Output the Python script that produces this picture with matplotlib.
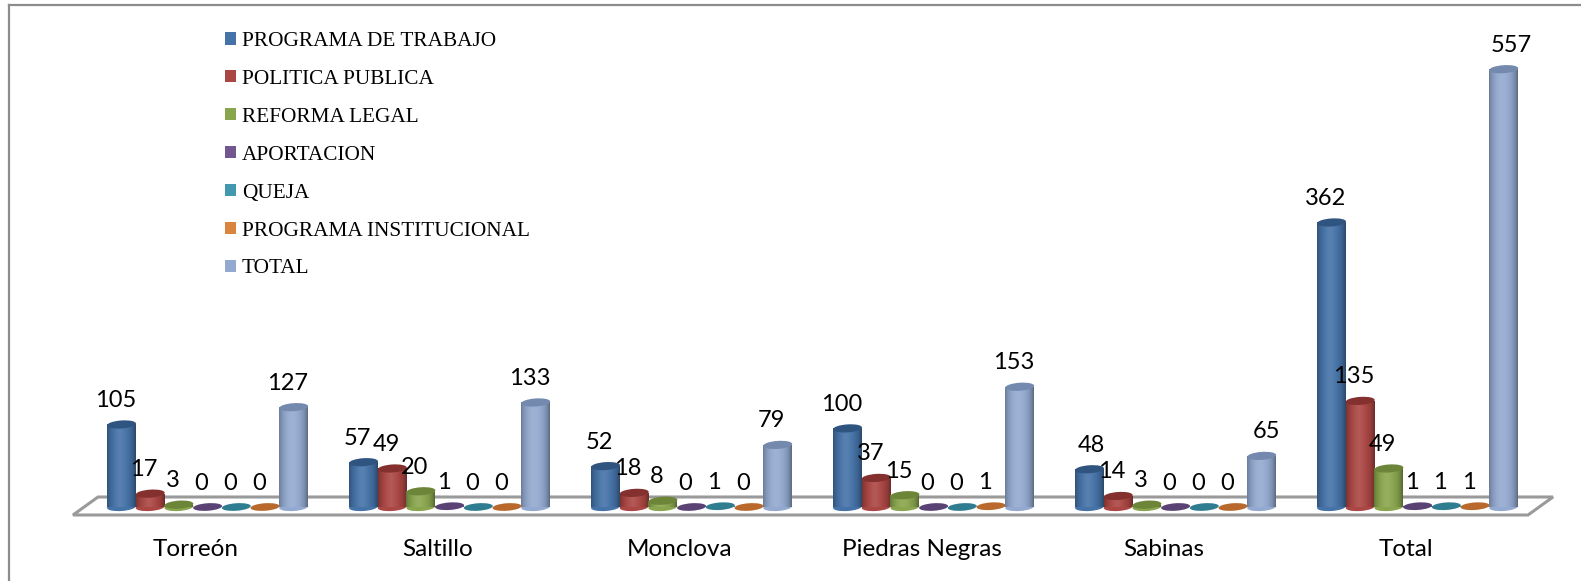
import matplotlib
import matplotlib.pyplot as plt
import numpy as np
from matplotlib.patches import Ellipse, Polygon, Rectangle
from matplotlib.transforms import Affine2D, ScaledTranslation

matplotlib.use('Agg')

cities = ['Torreón', 'Saltillo', 'Monclova', 'Piedras Negras', 'Sabinas', 'Total']
programa_trabajo = [105, 57, 52, 100, 48, 362]
politica_publica = [17, 49, 18, 37, 14, 135]
reforma_legal = [3, 20, 8, 15, 3, 49]
aportacion = [0, 1, 0, 0, 0, 1]
queja = [0, 0, 1, 0, 0, 1]
programa_institucional = [0, 0, 0, 1, 0, 1]
total = [127, 133, 79, 153, 65, 557]

series = [
    ('PROGRAMA DE TRABAJO', programa_trabajo, '#4572A7', '#2f5480'),
    ('POLITICA PUBLICA', politica_publica, '#AA4643', '#83302e'),
    ('REFORMA LEGAL', reforma_legal, '#89A54E', '#6c8538'),
    ('APORTACION', aportacion, '#71588F', '#5a4274'),
    ('QUEJA', queja, '#4198AF', '#2f7d90'),
    ('PROGRAMA INSTITUCIONAL', programa_institucional, '#DB843D', '#b8692b'),
    ('TOTAL', total, '#93A9CF', '#7389ae'),
]

W, H = 1581, 581
BASE_Y = 507        # pixel row of the bar bases
PX_PER_UNIT = 0.786
FIRST_X = 107       # left edge of the first bar
BAR_PX = 29
STEP_PX = 28.7      # bars overlap a little
PERIOD = 242

# labels that sit off the usual spot, (series, city): extra pixels to the right
label_nudge = {(0, 4): 8, (6, 4): 11, (6, 5): 14}

fig = plt.figure(figsize=(W / 100, H / 100), dpi=100, facecolor='white')
ax = fig.add_axes([0, 0, 1, 1])

# one x unit = one category, y in data values
group_mid = FIRST_X + BAR_PX / 2 + 3 * STEP_PX
xlim = (-group_mid / PERIOD, (W - group_mid) / PERIOD)
ylim = (-(H - BASE_Y) / PX_PER_UNIT, BASE_Y / PX_PER_UNIT)
bar_w = BAR_PX / PERIOD
step = STEP_PX / PERIOD


def px(x, y):
    """Figure pixels (from top left) as a figure fraction."""
    return x / W, 1 - y / H


# frame, only top and left show
fig.add_artist(plt.Line2D([px(9, 5)[0], 1], [px(9, 5)[1]] * 2, color='#8c8c8c', lw=1.6))
fig.add_artist(plt.Line2D([px(9, 5)[0]] * 2, [px(9, 5)[1], 0], color='#8c8c8c', lw=1.6))

# floor of the 3D chart
floor = Polygon([px(73, 515), px(98, 497), px(1553, 497), px(1528, 515)],
                closed=True, transform=fig.transFigure, facecolor='white',
                edgecolor='#9a9a9a', lw=2.2, zorder=1)
ax.add_patch(floor)

# shading across a cylinder: dark on both edges, right one stronger
u = np.linspace(0, 1, 64)
shade = np.zeros((1, 64, 4))
shade[0, :, 3] = np.clip(0.32 * np.abs(2 * u - 0.95) ** 3.2, 0, 0.42)
shade_light = np.ones((1, 64, 4))
shade_light[0, :, 3] = np.exp(-((u - 0.45) / 0.2) ** 2) * 0.10


def cap(x, y, width, height, color, zorder):
    # tilted ellipse sized in pixels, placed through the data transform
    tr = Affine2D().rotate_deg(4) + ScaledTranslation(x, y, ax.transData)
    ax.add_patch(Ellipse((0, 0), width, height, facecolor=color, edgecolor='none',
                         transform=tr, zorder=zorder))


for s, (label, values, color, dark) in enumerate(series):
    x = np.arange(len(cities)) + (s - 3) * step
    z = 3 + s * 0.1
    ax.bar(x, values, width=bar_w, color=color, label=label, zorder=z, linewidth=0)
    for c, (xi, v) in enumerate(zip(x, values)):
        if v <= 1:
            # nothing but a flat disc on the floor
            cap(xi, v, BAR_PX, 7.5, dark, z + 0.02)
        else:
            cap(xi, 0, BAR_PX, 8, color, z)
            ext = (xi - bar_w / 2, xi + bar_w / 2, -6, v)
            for img in (shade, shade_light):
                im = ax.imshow(img, extent=ext, aspect='auto', zorder=z + 0.01,
                               interpolation='bilinear')
                im.set_clip_path(Rectangle((xi - bar_w / 2, 0), bar_w, v,
                                           transform=ax.transData))
            cap(xi, v, BAR_PX, 8, dark, z + 0.02)
        ax.annotate(str(v), (xi, v),
                    xytext=(-6 + label_nudge.get((s, c), 0), 24),
                    textcoords='offset pixels', ha='center', va='center',
                    fontsize=17, family='Lato', color='black', zorder=10)

ax.set_xlim(xlim)
ax.set_ylim(ylim)
for spine in ax.spines.values():
    spine.set_visible(False)
ax.patch.set_visible(False)
ax.set_yticks([])
# category names sit a bit left of the bar groups
ax.set_xticks(np.arange(len(cities)) - 12 / PERIOD)
ax.set_xticklabels(cities, family='Lato', fontsize=17.5)
ax.tick_params(axis='x', length=0, direction='in', pad=-30)

ax.legend(loc='upper left', bbox_to_anchor=(225 / W, 1 - 32 / H),
          frameon=False, ncol=1, prop={'family': 'Liberation Serif', 'size': 15.3},
          handlelength=0.5, handleheight=0.5, handletextpad=0.3,
          labelspacing=0.89, borderpad=0, borderaxespad=0)

fig.savefig('out.png', dpi=100, facecolor='white')
plt.close(fig)
